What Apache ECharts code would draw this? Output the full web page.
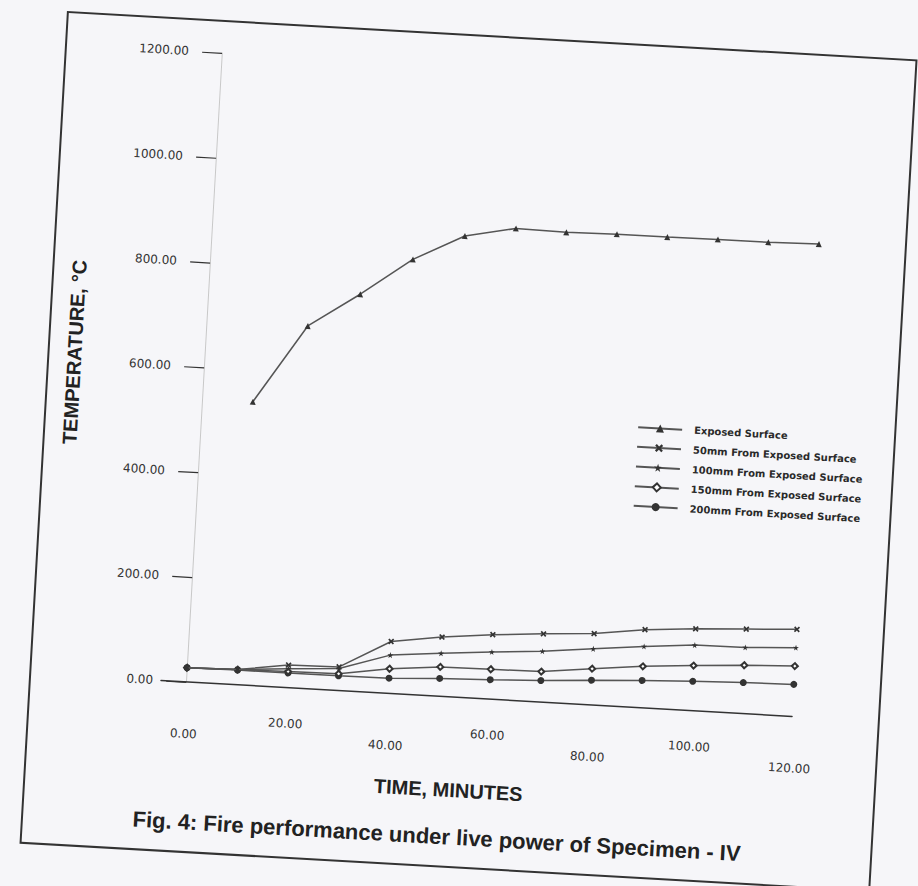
<!DOCTYPE html>
<html>
<head>
<meta charset="utf-8">
<script src="https://cdn.jsdelivr.net/npm/echarts@6/dist/echarts.min.js"></script>
<style>
html,body{margin:0;padding:0;background:#f6f6f9;overflow:hidden;width:918px;height:886px;}
#wrap{position:absolute;left:0;top:0;width:918px;height:886px;transform:rotate(3.26deg);transform-origin:459px 443px;}
#frame{position:absolute;left:43px;top:34px;width:852px;height:834px;border:2px solid #333;box-sizing:border-box;}
#chart{position:absolute;left:0;top:0;width:918px;height:886px;}
</style>
</head>
<body>
<div id="wrap"><div id="frame"></div><div id="chart"></div></div>
<script>
// Time in minutes
const times = [0, 10, 20, 30, 40, 50, 60, 70, 80, 90, 100, 110, 120];
// Temperatures (°C)
const exposedSurface = [null, 540, 690, 756, 828, 878, 898, 896, 898, 898, 899, 899, 901];
const from50mm  = [27, 29, 43, 45, 99, 113, 123, 130, 136, 149, 156, 161, 166];
const from100mm = [27, 29, 36, 42, 73, 82, 90, 97, 107, 117, 125, 126, 131];
const from150mm = [27, 29, 31, 32, 47, 56, 57, 58, 69, 79, 86, 92, 96];
const from200mm = [27, 28, 28, 28, 29, 34, 37, 41, 47, 52, 56, 59, 61];
const seriesNames = ['Exposed Surface', '50mm From Exposed Surface', '100mm From Exposed Surface', '150mm From Exposed Surface', '200mm From Exposed Surface'];
const xTickValues = [0, 20, 40, 60, 80, 100, 120];

const symbols = [
  'triangle',
  'path://M2,0L5,3L8,0L10,2L7,5L10,8L8,10L5,7L2,10L0,8L3,5L0,2Z',
  'path://M5,0L6.2,3.6L10,3.6L6.9,5.9L8.1,9.5L5,7.3L1.9,9.5L3.1,5.9L0,3.6L3.8,3.6Z',
  'emptyDiamond',
  'circle'
];
const dataSets = [exposedSurface, from50mm, from100mm, from150mm, from200mm];

const chart = echarts.init(document.getElementById('chart'), null, {renderer: 'svg'});
const series = dataSets.map((arr, k) => ({
  name: seriesNames[k],
  type: 'line',
  data: times.map((t, i) => [t, arr[i]]),
  symbol: symbols[k],
  symbolSize: k === 4 ? 7 : 6,
  showAllSymbol: true,
  lineStyle: {color: '#555', width: 1.5},
  itemStyle: {color: '#333', borderColor: '#333', borderWidth: k === 3 ? 1.5 : 0},
  emphasis: {disabled: true},
  z: 5 - k
}));

chart.setOption({
  backgroundColor: 'transparent',
  animation: false,
  title: {
    text: 'Fig. 4: Fire performance under live power of Specimen - IV',
    left: 'center',
    top: 821,
    textStyle: {fontFamily: 'Liberation Sans', fontWeight: 'bold', fontSize: 22, color: '#222'}
  },
  legend: {
    orient: 'vertical',
    left: 631,
    top: 407,
    itemWidth: 44,
    itemHeight: 10,
    itemGap: 9.7,
    data: seriesNames,
    textStyle: {fontFamily: 'DejaVu Sans', fontWeight: 'bold', fontSize: 10, color: '#2a2a2a', padding: [0, 0, 0, 7]}
  },
  grid: {left: 175, right: 111, top: 67, bottom: 189, containLabel: false},
  xAxis: {
    type: 'value',
    min: -5,
    max: 120,
    name: 'TIME, MINUTES',
    nameLocation: 'middle',
    nameGap: 83,
    nameTextStyle: {fontFamily: 'Liberation Sans', fontWeight: 'bold', fontSize: 20, color: '#222', padding: [0, 46, 0, 0]},
    axisLine: {show: true, lineStyle: {color: '#333', width: 1.5}},
    axisTick: {show: false},
    splitLine: {show: false},
    axisLabel: {
      customValues: xTickValues,
      margin: 28,
      lineHeight: 16,
      fontFamily: 'DejaVu Sans',
      fontSize: 12,
      color: '#333',
      formatter: v => (v % 40 === 0 ? '\n' : '') + v.toFixed(2)
    }
  },
  yAxis: {
    type: 'value',
    min: 0,
    max: 1200,
    interval: 200,
    name: 'TEMPERATURE, °C',
    nameLocation: 'middle',
    nameRotate: 90,
    nameGap: 95,
    nameTextStyle: {fontFamily: 'Liberation Sans', fontWeight: 'bold', fontSize: 20, color: '#222', padding: [0, 0, 0, 16]},
    axisLine: {show: true, onZero: true, lineStyle: {color: '#c8c8c8', width: 1}},
    axisTick: {show: true, length: 20, lineStyle: {color: '#333', width: 1.2}},
    splitLine: {show: false},
    axisLabel: {
      margin: 8,
      fontFamily: 'DejaVu Sans',
      fontSize: 12,
      color: '#333',
      formatter: v => v.toFixed(2)
    }
  },
  series: series
});
</script>
</body>
</html>
